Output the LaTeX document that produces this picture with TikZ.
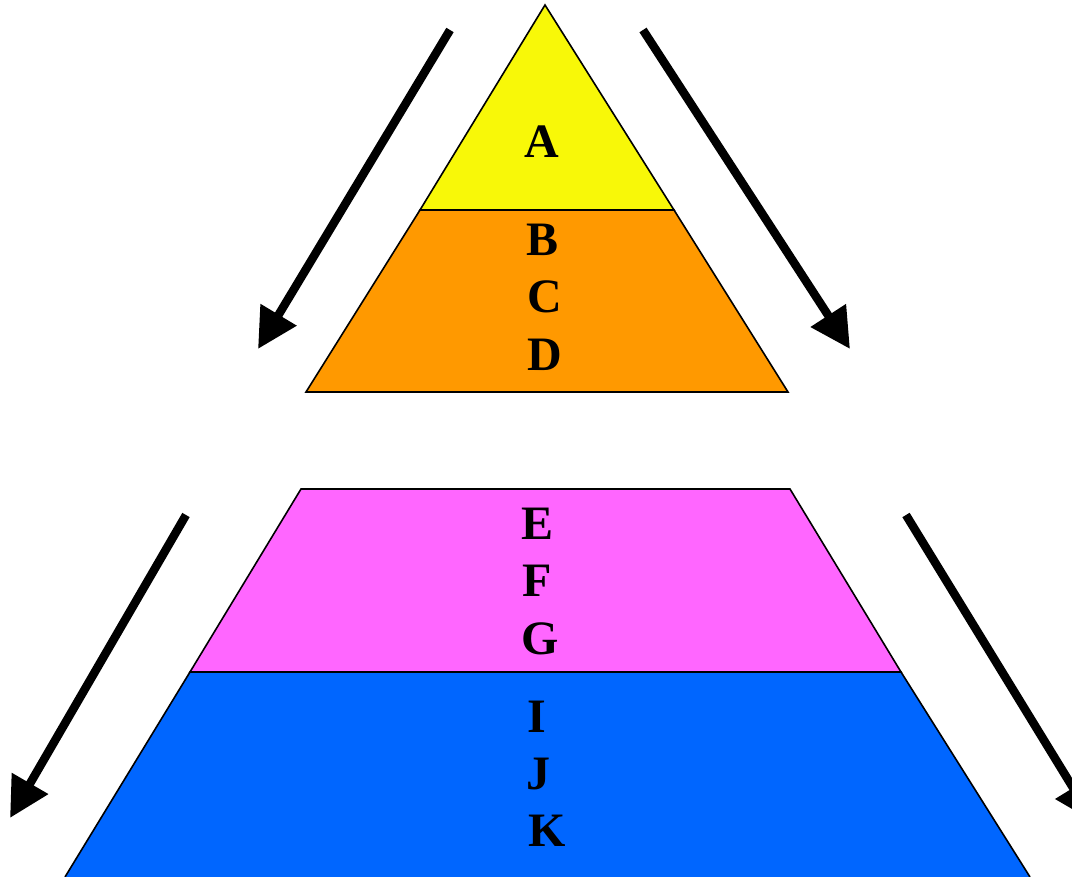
\documentclass[tikz,border=0pt]{standalone}
\usepackage{fontspec}
\setmainfont{Liberation Serif}
\usetikzlibrary{arrows.meta}
\definecolor{tyellow}{RGB}{248,248,8}
\definecolor{torange}{RGB}{255,153,0}
\definecolor{tpink}{RGB}{255,102,255}
\definecolor{tblue}{RGB}{0,102,255}
\tikzset{
  layer/.style={draw=black, line width=1.6pt, line join=miter},
  lbl/.style={anchor=base, inner sep=0pt, font=\fontsize{48}{57}\selectfont\bfseries},
  bigarrow/.style={line width=8.5pt, -{Triangle[length=40pt,width=40pt]}},
}
\begin{document}
\begin{tikzpicture}[x=1pt,y=-1pt]
\useasboundingbox (0,0) rectangle (1072,877);
\clip (0,0) rectangle (1072,877);
% layers
\fill[tblue] (190,672) -- (901,672) -- (1030,877) -- (65,877) -- cycle;
\draw[layer] (65,877) -- (190,672) -- (901,672) -- (1030,877);
\draw[layer, fill=tpink] (301,489) -- (790,489) -- (901,672) -- (190,672) -- cycle;
\draw[layer, fill=torange] (420,210) -- (674,210) -- (788,392) -- (306,392) -- cycle;
\draw[layer, fill=tyellow] (545,5) -- (674,210) -- (420,210) -- cycle;
% labels
\node[lbl] (A) at (542,158) {A};
\node[lbl] (B) at (543,256) {B};
\node[lbl] (C) at (545,313) {C};
\node[lbl] (D) at (545,371) {D};
\node[lbl] (E) at (538,539) {E};
\node[lbl] (F) at (537,596) {F};
\node[lbl] (G) at (540,654) {G};
\node[lbl] (I) at (537,732) {I};
\node[lbl] (J) at (538,789) {J};
\node[lbl] (K) at (547,846) {K};
% arrows
\coordinate (a1s) at (450,30);  \coordinate (a1e) at (258,349);
\coordinate (a2s) at (643,30);  \coordinate (a2e) at (850,349);
\coordinate (a3s) at (186,515); \coordinate (a3e) at (10,818);
\coordinate (a4s) at (906,515); \coordinate (a4e) at (1094,822);
\draw[bigarrow] (a1s) -- (a1e);
\draw[bigarrow] (a2s) -- (a2e);
\draw[bigarrow] (a3s) -- (a3e);
\draw[bigarrow] (a4s) -- (a4e);
\end{tikzpicture}
\end{document}
